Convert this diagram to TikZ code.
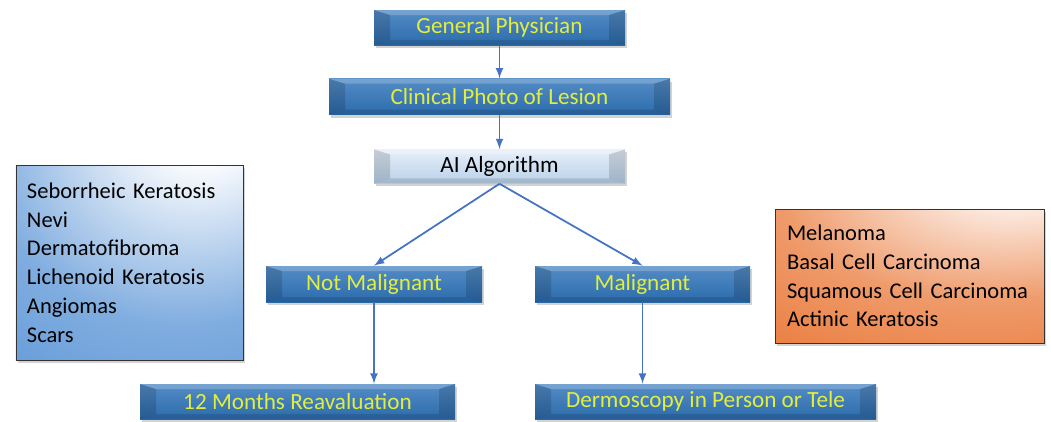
\documentclass[tikz,border=0pt]{standalone}
\usepackage{fontspec}
\setmainfont{Carlito}
\usetikzlibrary{positioning,shadows}

\definecolor{boxblue}{HTML}{2F74BA}
\definecolor{flowyellow}{HTML}{E2EE3E}
\definecolor{arrowblue}{HTML}{4472C4}
\definecolor{listblue}{HTML}{4A8AD2}
\definecolor{listorange}{HTML}{E8702C}
\definecolor{aiblue}{HTML}{B9D1EA}

\pgfdeclareradialshading{glowblue}{\pgfpoint{18bp}{40bp}}{color(0bp)=(white); color(10bp)=(white); color(42bp)=(listblue!70!white); color(80bp)=(listblue); color(120bp)=(listblue)}
\pgfdeclareradialshading{gloworange}{\pgfpoint{22bp}{42bp}}{color(0bp)=(white); color(6bp)=(white); color(38bp)=(listorange!70!white); color(72bp)=(listorange); color(120bp)=(listorange)}

\tikzset{
  bevel/.style={path picture={
    \fill[black,opacity=0.14] (path picture bounding box.north west) -- ([shift={(0.32cm,-0.1cm)}]path picture bounding box.north west)
      -- ([shift={(0.32cm,0.1cm)}]path picture bounding box.south west) -- (path picture bounding box.south west) -- cycle;
    \fill[black,opacity=0.14] (path picture bounding box.north east) -- ([shift={(-0.32cm,-0.1cm)}]path picture bounding box.north east)
      -- ([shift={(-0.32cm,0.1cm)}]path picture bounding box.south east) -- (path picture bounding box.south east) -- cycle;
    \fill[white,opacity=0.2] (path picture bounding box.north west) -- ([shift={(0.32cm,-0.1cm)}]path picture bounding box.north west)
      -- ([shift={(-0.32cm,-0.1cm)}]path picture bounding box.north east) -- (path picture bounding box.north east) -- cycle;
    \fill[black,opacity=0.12] (path picture bounding box.south west) -- ([shift={(0.32cm,0.1cm)}]path picture bounding box.south west)
      -- ([shift={(-0.32cm,0.1cm)}]path picture bounding box.south east) -- (path picture bounding box.south east) -- cycle;
  }},
  shade/.style={drop shadow={shadow xshift=0.4mm, shadow yshift=-0.6mm, opacity=0.35}},
  flowbox/.style={bevel, shade, minimum height=0.7cm, inner sep=0pt, text=flowyellow,
    top color=boxblue!82!white, bottom color=boxblue!92!black, font=\fontsize{13.2}{16}\selectfont},
  aibox/.style={bevel, shade, minimum height=0.68cm, inner sep=0pt, text=black,
    top color=aiblue!35!white, bottom color=aiblue, font=\fontsize{13.2}{16}\selectfont},
  listbox/.style={draw=black!80, thin, shade, align=left, font=\fontsize{12.8}{16.4}\selectfont},
  conn/.style={-latex, draw=arrowblue, line width=1pt}
}

\begin{document}
\begin{tikzpicture}
  \useasboundingbox (0,0) rectangle (21.02,-8.42);

  \node[flowbox, minimum width=5.02cm] (gp) at (9.99,-0.55) {General Physician};
  \node[flowbox, minimum width=6.82cm, minimum height=0.72cm] (photo) [below=0.66cm of gp] {Clinical Photo of Lesion};
  \node[aibox, minimum width=5.02cm] (ai) [below=0.68cm of photo] {AI Algorithm};

  \node[flowbox, minimum width=4.32cm, minimum height=0.72cm] (notmal) at (7.48,-5.68) {Not Malignant};
  \node[flowbox, minimum width=4.30cm, minimum height=0.72cm] (mal) at (12.85,-5.68) {Malignant};

  \node[flowbox, minimum width=6.30cm] (months) at (5.95,-8.03) {12 Months Reavaluation};
  \node[flowbox, minimum width=6.82cm] (dermo) at (14.11,-8.03) {Dermoscopy in Person or Tele};

  % lists of lesion types
  \node[listbox, shading=glowblue, text width=4.10cm, inner xsep=0.22cm, minimum height=3.9cm] (benign) at (2.59,-5.25)
    {Seborrheic Keratosis\\Nevi\\Dermatofibroma\\Lichenoid Keratosis\\Angiomas\\Scars};
  \node[listbox, shading=gloworange, text width=4.90cm, inner xsep=0.24cm, minimum height=2.68cm] (cancer) at (18.19,-5.52)
    {Melanoma\\Basal Cell Carcinoma\\Squamous Cell Carcinoma\\Actinic Keratosis};

  \draw[conn] (gp) -- (photo);
  \draw[conn] (photo) -- (ai);
  \draw[conn] (ai.south) -- (notmal.north);
  \draw[conn] (ai.south) -- (mal.north);
  \draw[conn] (notmal.south) -- (notmal.south |- months.north);
  \draw[conn] (mal.south) -- (mal.south |- dermo.north);
\end{tikzpicture}
\end{document}
